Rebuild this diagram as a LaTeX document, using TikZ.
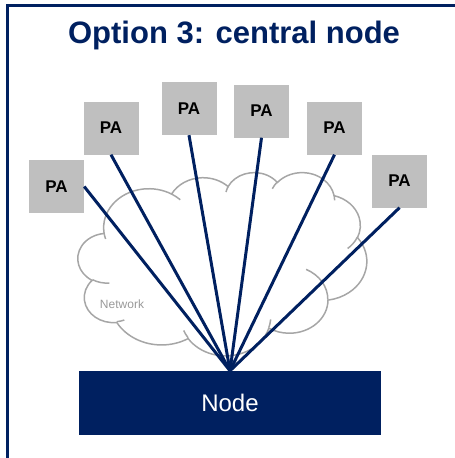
\documentclass[tikz,border=0pt]{standalone}
\usepackage{fontspec}
\setmainfont{Liberation Sans}
\definecolor{navy}{HTML}{002060}
\definecolor{paGray}{HTML}{BFBFBF}
\definecolor{cloudGray}{HTML}{A6A6A6}
\tikzset{pa/.style={fill=paGray, minimum width=55pt, minimum height=53pt, inner sep=0pt, font=\fontsize{17}{20}\selectfont\bfseries},
link/.style={navy, line width=3pt},
%arc given as wR/hR/start/sweep (visual angles, y down)
ooarc/.style args={#1/#2/#3/#4}{x radius=#1, y radius=#2,
  start angle={atan2(#1*sin(#3),#2*cos(#3))},
  delta angle={mod(atan2(#1*sin((#3)+(#4)),#2*cos((#3)+(#4)))-atan2(#1*sin(#3),#2*cos(#3))-(#4)+1260,360)-180+(#4)}}}

\begin{document}
\begin{tikzpicture}[x=1pt,y=-1pt]
\useasboundingbox (0,0) rectangle (455,458);
% frame
\draw[navy, line width=2.5pt] (7.5,5.5) rectangle (480,480);

\node[navy, font=\fontsize{31}{36}\selectfont\bfseries] (title) at (234,35) {Option 3: central node};

% PA boxes
\foreach \i/\x/\y in {1/56.5/186.5, 2/111/128, 3/189/108.5, 4/261.5/111, 5/334.5/128, 6/399.5/181}
    \node[pa] (pa\i) at (\x,\y) {PA};

\node[fill=navy, text=white, minimum width=302pt, minimum height=64pt, inner sep=0pt, font=\fontsize{24}{28}\selectfont] (hub) at (230,403) {Node};

% network cloud
\begin{scope}[xshift=78pt, yshift=-172pt, x=0.0066898pt, y=-0.0042361pt, cloudGray, line width=1.5pt]
\draw (3900,14370)
  \foreach \a in {6753/9190/-190.4875/123.7805, 5333/7267/-144.1024/89.9452,
                  4365/5945/-145.8079/99.7230, 4857/6595/-130.9861/117.2417,
                  5333/7273/-78.7089/109.0269, 6775/9220/-46.2673/130.2690,
                  5785/7867/0.6250/114.0333, 6752/9215/22.4516/115.1726,
                  7720/10543/66.2426/75.7110, 4360/5918/-274.9421/146.7356,
                  4345/5945/-246.8285/152.5189}
  { arc[ooarc/.expanded=\a] } -- cycle;
\foreach \px/\py/\a in {4693/26177/{4345/5945/86.742/26.4295}, 6928/34899/{4360/5918/73.6105/11.4475},
                        16478/39090/{6752/9215/137.6242/14.0811}, 28827/34751/{6752/9215/6.4533/15.9984},
                        34129/22954/{5785/7867/-70.2924/70.9174}, 41798/15354/{5333/7273/30.3180/27.7515},
                        38324/5426/{4857/6595/-13.7443/14.8589}, 29078/3952/{4857/6595/-149.1815/18.1954},
                        22141/4720/{4365/5945/-163.4943/17.6864}, 14000/5192/{6753/9190/-66.7070/12.3194},
                        4127/15789/{6753/9190/157.6544/11.8582}}
  \draw (\px,\py) arc[ooarc/.expanded=\a];
\end{scope}
\node[text=gray!80, font=\fontsize{12}{14}\selectfont] (net) at (122,304) {Network};

% links to the node
\draw[link] (pa1.east) -- (hub.north);
\foreach \i in {2,...,6}
    \draw[link] (pa\i.south) -- (hub.north);

\end{tikzpicture}
\end{document}
